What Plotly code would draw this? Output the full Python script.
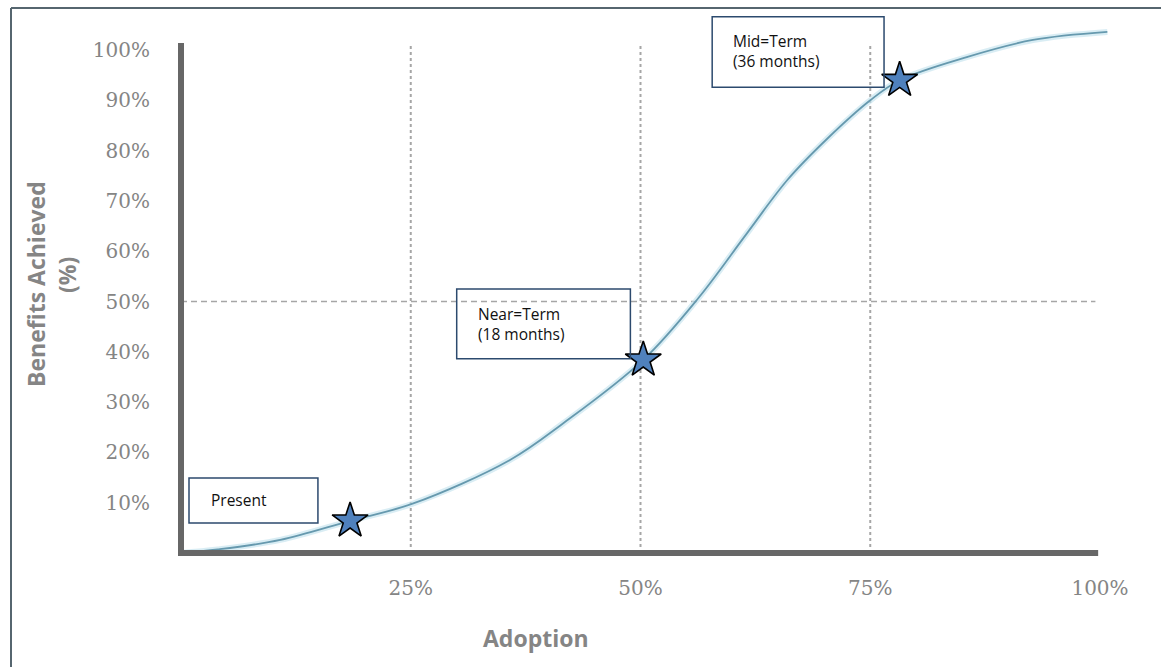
import plotly.graph_objects as go

# S-curve: benefits achieved (%) against adoption (%)
adoption = [0, 4.0, 10.8, 18.4, 25.2, 35.8, 41.6, 50.3, 56.3, 61.6, 66.0,
            70.4, 75.0, 78.2, 85.5, 92.7, 100.8]
benefits = [0, 0.7, 2.6, 6.4, 9.8, 18.5, 25.8, 38.4, 50.7, 63.6, 74.2,
            82.5, 90.0, 94.0, 98.6, 102.0, 103.6]

# Milestones marked with stars
milestone_x = [18.4, 50.3, 78.2]
milestone_y = [6.4, 38.4, 94.0]
milestone_text = ["Present", "Near=Term<br>(18 months)", "Mid=Term<br>(36 months)"]

x_ticks = [25, 50, 75, 100]
x_tick_text = ["25%", "50%", "75%", "100%"]
y_ticks = [10, 20, 30, 40, 50, 60, 70, 80, 90, 100]
y_tick_text = [f"{v}%" for v in y_ticks]

# Canvas geometry
WIDTH, HEIGHT = 1161, 667
L, R, T, B = 163, 29, 7, 99
PW, PH = WIDTH - L - R, HEIGHT - T - B
ORIGIN_X, ORIGIN_Y = 181, 553      # pixel position of (0, 0)
XS, YS = 9.19, 5.03                # pixels per percent
x_range = [(L - ORIGIN_X) / XS, (L + PW - ORIGIN_X) / XS]
y_range = [(ORIGIN_Y - (T + PH)) / YS, (ORIGIN_Y - T) / YS]


def paper_x(px):
    return (px - L) / PW


def paper_y(py):
    return (T + PH - py) / PH


TICK_FONT = dict(family="DejaVu Serif", size=20, color="#858585")
TITLE_FONT = dict(family="Open Sans", size=23, color="#858585", weight="bold")
NOTE_FONT = dict(family="Open Sans", size=15.5, color="#111111")

fig = go.Figure()

# soft halo under the curve
fig.add_trace(go.Scatter(
    x=adoption, y=benefits, mode="lines",
    line=dict(color="rgba(196,228,238,0.65)", width=6, shape="spline", smoothing=1.0),
    hoverinfo="skip", showlegend=False,
))
fig.add_trace(go.Scatter(
    x=adoption, y=benefits, mode="lines",
    line=dict(color="#6699ae", width=1.8, shape="spline", smoothing=1.0),
    showlegend=False,
))
fig.add_trace(go.Scatter(
    x=milestone_x, y=milestone_y, mode="markers",
    marker=dict(symbol="star", size=27, color="#4f81bd",
                line=dict(color="#000000", width=1.6)),
    showlegend=False,
))

shapes = []
# vertical dotted guides at 25/50/75 %
for xv in x_ticks[:3]:
    shapes.append(dict(type="line", xref="x", yref="y", x0=xv, x1=xv, y0=0, y1=101.4,
                       line=dict(color="#a6a6a6", width=2, dash="3px,3px"), layer="below"))
# horizontal dashed guide at 50 %
shapes.append(dict(type="line", xref="x", yref="y", x0=0, x1=99.5, y0=50, y1=50,
                   line=dict(color="#a6a6a6", width=1.5, dash="6px,4px"), layer="below"))
# heavy axis lines
shapes.append(dict(type="line", xref="x", yref="y", x0=0, x1=0, y0=-0.6, y1=101.4,
                   line=dict(color="#676767", width=6)))
shapes.append(dict(type="line", xref="x", yref="y", x0=-0.3, x1=99.8, y0=0, y1=0,
                   line=dict(color="#676767", width=6)))

# milestone call-out boxes (x0, x1, y0, y1 in axis units)
boxes = [(0.87, 14.9, 5.96, 14.9), (30.0, 48.9, 38.6, 52.5), (57.8, 76.5, 92.6, 106.6)]
for x0, x1, y0, y1 in boxes:
    shapes.append(dict(type="rect", xref="x", yref="y", x0=x0, x1=x1, y0=y0, y1=y1,
                       fillcolor="rgba(255,255,255,0)",
                       line=dict(color="#2c4a6e", width=1.5)))

# frame along the top and left edges
shapes.append(dict(type="line", xref="paper", yref="paper",
                   x0=paper_x(11), x1=paper_x(1165), y0=paper_y(8), y1=paper_y(8),
                   line=dict(color="#56666f", width=2)))
shapes.append(dict(type="line", xref="paper", yref="paper",
                   x0=paper_x(11), x1=paper_x(11), y0=paper_y(8), y1=paper_y(670),
                   line=dict(color="#56666f", width=2)))

annotations = []
note_pos = [(3.0, 10.5), (32.1, 45.6), (59.8, 99.8)]
for (tx, ty), txt in zip(note_pos, milestone_text):
    annotations.append(dict(x=tx, y=ty, xref="x", yref="y", text=txt, showarrow=False,
                            xanchor="left", yanchor="middle", align="left", font=NOTE_FONT))

annotations.append(dict(x=paper_x(536), y=paper_y(638), xref="paper", yref="paper",
                        text="Adoption", showarrow=False, font=TITLE_FONT,
                        xanchor="center", yanchor="middle"))
annotations.append(dict(x=paper_x(36), y=paper_y(284), xref="paper", yref="paper",
                        text="Benefits Achieved", showarrow=False, font=TITLE_FONT,
                        textangle=-90, xanchor="center", yanchor="middle"))
annotations.append(dict(x=paper_x(67), y=paper_y(275), xref="paper", yref="paper",
                        text="(%)", showarrow=False, font=TITLE_FONT,
                        textangle=-90, xanchor="center", yanchor="middle"))

fig.update_layout(
    width=WIDTH, height=HEIGHT,
    margin=dict(l=L, r=R, t=T, b=B),
    paper_bgcolor="#ffffff", plot_bgcolor="#ffffff",
    shapes=shapes, annotations=annotations,
    xaxis=dict(range=x_range, showgrid=False, zeroline=False, showline=False,
               tickvals=x_ticks, ticktext=x_tick_text, tickfont=TICK_FONT,
               ticks="", ticklabelstandoff=6, fixedrange=True),
    yaxis=dict(range=y_range, showgrid=False, zeroline=False, showline=False,
               tickvals=y_ticks, ticktext=y_tick_text, tickfont=TICK_FONT,
               ticks="", ticklabelstandoff=12, fixedrange=True),
)

fig.write_html("out.html")
